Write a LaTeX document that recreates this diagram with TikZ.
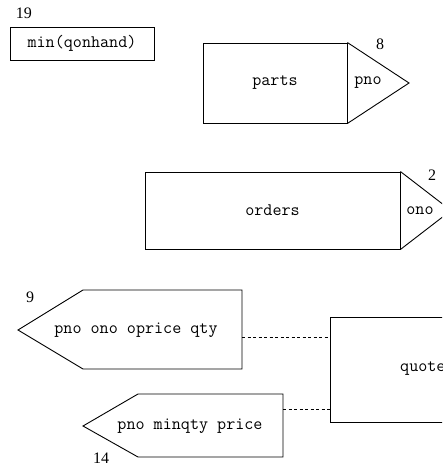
\documentclass[tikz,border=0pt]{standalone}
\usepackage{fontspec}
\setmainfont{Liberation Serif}
\begin{document}
\begin{tikzpicture}[x=1pt,y=-1pt,
  lw/.style={line width=0.9pt},
  boxnode/.style={draw,lw,inner sep=0pt,font=\ttfamily\fontsize{17.6}{17.6}\selectfont},
  lbl/.style={inner sep=0pt,font=\ttfamily\fontsize{17.6}{17.6}\selectfont},
  num/.style={inner sep=0pt,font=\fontsize{16}{16}\selectfont},
  conn/.style={lw,dash pattern=on 3pt off 2.5pt}]
\useasboundingbox (0,0) rectangle (442,466);
\begin{scope}
\clip (0,0) rectangle (442,466);
% min(qonhand)
\node[boxnode,minimum width=144pt,minimum height=33pt] (mq) at (82,43.5) {min(qonhand)};
\node[num] (n19) at (24,13) {19};
% parts
\node[boxnode,minimum width=144pt,minimum height=80pt] (parts) at (275,83) {parts};
\coordinate (ptip) at (409,83);
\draw[lw,line join=miter] (parts.north east) -- (ptip) -- (parts.south east);
\node[lbl] (ppno) at (368,83) {pno};
\node[num] (n8) at (380,44) {8};
% orders
\node[boxnode,minimum width=255pt,minimum height=77pt] (orders) at (272.5,210.5) {orders};
\coordinate (otip) at (451,210.5);
\draw[lw] (orders.north east) -- (otip) -- (orders.south east);
\node[lbl] (oono) at (420,210.5) {ono};
\node[num] (n2) at (432,175) {2};
% pentagon 1
\coordinate (a1) at (18,330);
\coordinate (a2) at (83,290);
\coordinate (a3) at (242,290);
\coordinate (a4) at (242,369);
\coordinate (a5) at (83,369);
\draw[lw] (a1) -- (a2) -- (a3) -- (a4) -- (a5) -- cycle;
\node[lbl] (t1) at (136,330) {pno ono oprice qty};
\node[num] (n9) at (30,297) {9};
% pentagon 2
\coordinate (b1) at (83,426);
\coordinate (b2) at (138,394);
\coordinate (b3) at (283,394);
\coordinate (b4) at (283,457);
\coordinate (b5) at (138,457);
\draw[lw] (b1) -- (b2) -- (b3) -- (b4) -- (b5) -- cycle;
\node[lbl] (t2) at (190,426) {pno minqty price};
\node[num] (n14) at (101,458) {14};
% quotes
\draw[lw] (330,317) rectangle (480,422);
\node[lbl,anchor=west] (quotes) at (400,369) {quotes};
\coordinate (q1) at (330,337);
\coordinate (q2) at (330,409);
\coordinate (s1) at (242,337);
\coordinate (s2) at (283,409);
\draw[conn] (s1) -- (q1);
\draw[conn] (s2) -- (q2);
\end{scope}
\end{tikzpicture}
\end{document}
